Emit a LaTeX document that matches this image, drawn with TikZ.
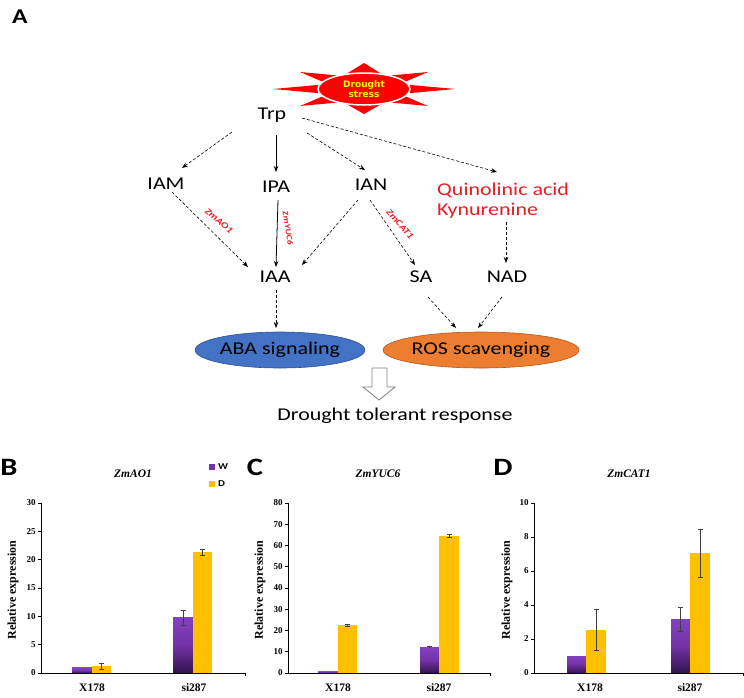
\documentclass[tikz,border=0pt]{standalone}
\usepackage{fontspec}
\setmainfont{Liberation Serif}
\newfontfamily\diagfont{Carlito}[FakeStretch=1.22]
\newfontfamily\burstfont{DejaVu Sans}
\usetikzlibrary{shapes.geometric,arrows.meta,calc}
\definecolor{pathred}{RGB}{232,28,36}
\definecolor{burstred}{RGB}{255,0,0}
\definecolor{burstyellow}{RGB}{255,255,0}
\definecolor{abablue}{RGB}{68,114,196}
\definecolor{ababorder}{RGB}{47,82,143}
\definecolor{rosorange}{RGB}{237,125,49}
\definecolor{rosborder}{RGB}{174,90,33}
\definecolor{wtop}{RGB}{130,66,192}
\definecolor{wmid}{RGB}{115,50,165}
\definecolor{wbot}{RGB}{50,20,78}
\definecolor{dfill}{RGB}{255,192,0}
\begin{document}
\begin{tikzpicture}[x=1pt, y=-1pt,
  metab/.style={font=\diagfont\fontsize{18}{20}\selectfont, inner sep=0pt},
  redmetab/.style={metab, text=pathred},
  enzyme/.style={font=\diagfont\bfseries\itshape\fontsize{9}{10}\selectfont, text=pathred, inner sep=0pt},
  dasharrow/.style={line width=0.6pt, dash pattern=on 3pt off 2pt, -{Stealth[length=6pt,width=4.5pt]}},
  solidarrow/.style={line width=0.8pt, -{Stealth[length=6pt,width=4.5pt]}},
  outcome/.style={ellipse, minimum width=157pt, minimum height=36pt, inner sep=0pt, line width=0.6pt, font=\diagfont\fontsize{18}{20}\selectfont},
  panel/.style={font=\diagfont\bfseries\fontsize{25}{27}\selectfont, inner sep=0pt},
  genetitle/.style={font=\bfseries\itshape\fontsize{11.5}{13}\selectfont, inner sep=0pt},
  ylbl/.style={font=\bfseries\fontsize{12}{14}\selectfont, rotate=90, inner sep=0pt},
  catlbl/.style={font=\bfseries\fontsize{11.5}{13}\selectfont, inner sep=0pt},
  ticklbl/.style={font=\bfseries\fontsize{9}{10}\selectfont, inner sep=0pt, anchor=east, xshift=-2pt},
  legend/.style={font=\diagfont\bfseries\fontsize{9}{10}\selectfont, inner sep=0pt, anchor=west},
  barW/.style={top color=wtop, bottom color=wbot, middle color=wmid},
  barD/.style={fill=dfill},
  errbar/.style={line width=0.6pt, draw=black!75},
  axisline/.style={line width=0.7pt}
]
% figure laid out on the pixel grid, y running down
\providecommand{\tickln}{3pt}
\useasboundingbox (0,0) rectangle (744,697);
\node[panel, font=\diagfont\bfseries\fontsize{21}{23}\selectfont] (lblA) at (20,17) {A};

% Drought stress burst
\fill[burstred] (455,89) -- (400,84) -- (428,72) -- (385,76) -- (364,63) -- (343,76)
  -- (300,72) -- (328,84) -- (273,89) -- (328,94) -- (300,106) -- (343,102)
  -- (364,114) -- (385,102) -- (428,106) -- (400,94) -- cycle;
\node[ellipse, fill=burstred, draw=white, line width=1.5pt, minimum width=92pt, minimum height=32pt,
  inner sep=0pt, align=center, text=burstyellow,
  font=\burstfont\bfseries\fontsize{9}{9.5}\selectfont] (stress) at (364,89) {Drought\\stress};

% Metabolites
\node[metab] (trp) at (272,115) {Trp};
\node[metab] (iam) at (166,184) {IAM};
\node[metab] (ipa) at (276,187) {IPA};
\node[metab] (ian) at (371,185) {IAN};
\node[redmetab, anchor=west] (quin) at (437,190) {Quinolinic acid};
\node[redmetab, anchor=west] (kyn) at (437,211) {Kynurenine};
\node[metab] (iaa) at (275,277) {IAA};
\node[metab] (sa) at (421,277) {SA};
\node[metab] (nad) at (507,277) {NAD};
\node[outcome, fill=abablue, draw=ababorder] (aba) at (280,350) {ABA signaling};
\node[outcome, fill=rosorange, draw=rosborder, minimum width=162pt] (ros) at (481,350) {ROS scavenging};
\node[metab] (resp) at (395,416) {Drought tolerant response};

% Enzymes
\node[enzyme, rotate=-40] (ao1) at (219,221) {ZmAO1};
\node[enzyme, rotate=-81, font=\diagfont\bfseries\itshape\fontsize{8}{9}\selectfont] (yuc6) at (288,228) {ZmYUC6};
\node[enzyme, rotate=-49] (cat1) at (400,224) {ZmCAT1};

% Pathway arrows
\draw[dasharrow] ($(trp)+(-40,17)$) -- ($(iam)+(16,-16)$);
\draw[solidarrow] ($(trp)+(4,20)$) -- ($(ipa)+(0,-15)$);
\draw[dasharrow] ($(trp)+(35,18)$) -- ($(ian)+(-6,-15)$);
\draw[dasharrow] ($(trp)+(30,3)$) -- ($(quin.west)+(60,-18)$);
\draw[dasharrow] ($(iam)+(6,8)$) -- ($(iaa)+(-27,-10)$);
\draw[solidarrow] ($(ipa)+(2,13)$) -- ($(iaa)+(1,-10)$);
\draw[dasharrow] ($(ian)+(-13,15)$) -- ($(iaa)+(27,-12)$);
\draw[dasharrow] ($(ian)+(-1,15)$) -- ($(sa)+(-6,-12)$);
\draw[dasharrow] ($(kyn.west)+(69,11)$) -- ($(nad)+(-1,-14)$);
\draw[dasharrow] ($(iaa)+(1,13)$) -- ($(aba)+(-4,-22)$);
\draw[dasharrow] ($(sa)+(7,20)$) -- ($(ros)+(-25,-22)$);
\draw[dasharrow] ($(nad)+(-5,20)$) -- ($(ros)+(-3,-22)$);

% Hollow arrow to the response
\draw[draw=black!50, fill=white, line width=0.8pt] (372,368) -- (387,368) -- (387,387) -- (395,387)
  -- (379,400) -- (363,387) -- (372,387) -- cycle;

% ---------- Panel B ----------
\node[panel] (lblB) at (9,467) {B};
\node[genetitle] (ttlB) at (133,474) {ZmAO1};
\node[ylbl] (yB) at (13,590) {Relative expression};
\node[catlbl] (xB1) at (92,688) {X178};
\node[catlbl] (xB2) at (194,688) {si287};
\fill[wmid] (209,464) rectangle (215,470);
\node[legend] (legW) at (218,467) {W};
\fill[dfill] (209,481) rectangle (215,487);
\node[legend] (legD) at (218,484) {D};
\begin{scope}[shift={(41,673)}, y=5.667pt]
  % Bars
  \path[barW] (31,0) rectangle (51,0.9);
  \path[barD] (51,0) rectangle (70,1.2);
  \path[barW] (132,0) rectangle (152,9.8);
  \path[barD] (152,0) rectangle (171,21.3);
  % Error bars
  \draw[errbar] (60.5,0.7) -- (60.5,1.7) (58,0.7) -- (63,0.7) (58,1.7) -- (63,1.7);
  \draw[errbar] (142,8.5) -- (142,11.1) (139.5,8.5) -- (144.5,8.5) (139.5,11.1) -- (144.5,11.1);
  \draw[errbar] (161.5,20.7) -- (161.5,21.9) (159,20.7) -- (164,20.7) (159,21.9) -- (164,21.9);
  % Axes and ticks
  \draw[axisline] (0,30) -- (0,0) -- (204,0) -- ++(0,-\tickln);
  \draw[axisline] (0,0) -- ++(-\tickln,0) node[ticklbl] (tB0) {0}
    (0,5) -- ++(-\tickln,0) node[ticklbl] (tB5) {5}
    (0,10) -- ++(-\tickln,0) node[ticklbl] (tB10) {10}
    (0,15) -- ++(-\tickln,0) node[ticklbl] (tB15) {15}
    (0,20) -- ++(-\tickln,0) node[ticklbl] (tB20) {20}
    (0,25) -- ++(-\tickln,0) node[ticklbl] (tB25) {25}
    (0,30) -- ++(-\tickln,0) node[ticklbl] (tB30) {30};
\end{scope}

% ---------- Panel C ----------
\node[panel] (lblC) at (255,467) {C};
\node[genetitle] (ttlC) at (378,474) {ZmYUC6};
\node[ylbl] (yC) at (260,590) {Relative expression};
\node[catlbl] (xC1) at (338,688) {X178};
\node[catlbl] (xC2) at (439,688) {si287};
\begin{scope}[shift={(288,673)}, y=2.125pt]
  % Bars
  \path[barW] (30,0) rectangle (50,0.8);
  \path[barD] (50,0) rectangle (69,22.6);
  \path[barW] (132,0) rectangle (151,12.2);
  \path[barD] (151,0) rectangle (171,64.5);
  % Error bars
  \draw[errbar] (59.5,22.1) -- (59.5,23.1) (57,22.1) -- (62,22.1) (57,23.1) -- (62,23.1);
  \draw[errbar] (141.5,11.9) -- (141.5,12.5) (139,12.5) -- (144,12.5);
  \draw[errbar] (161,63.9) -- (161,65.1) (158.5,63.9) -- (163.5,63.9) (158.5,65.1) -- (163.5,65.1);
  % Axes and ticks
  \draw[axisline] (0,80) -- (0,0) -- (202,0) -- ++(0,-\tickln);
  \draw[axisline] (0,0) -- ++(-\tickln,0) node[ticklbl] (tC0) {0}
    (0,10) -- ++(-\tickln,0) node[ticklbl] (tC10) {10}
    (0,20) -- ++(-\tickln,0) node[ticklbl] (tC20) {20}
    (0,30) -- ++(-\tickln,0) node[ticklbl] (tC30) {30}
    (0,40) -- ++(-\tickln,0) node[ticklbl] (tC40) {40}
    (0,50) -- ++(-\tickln,0) node[ticklbl] (tC50) {50}
    (0,60) -- ++(-\tickln,0) node[ticklbl] (tC60) {60}
    (0,70) -- ++(-\tickln,0) node[ticklbl] (tC70) {70}
    (0,80) -- ++(-\tickln,0) node[ticklbl] (tC80) {80};
\end{scope}

% ---------- Panel D ----------
\node[panel] (lblD) at (503,467) {D};
\node[genetitle] (ttlD) at (629,474) {ZmCAT1};
\node[ylbl] (yD) at (507,590) {Relative expression};
\node[catlbl] (xD1) at (590,688) {X178};
\node[catlbl] (xD2) at (690,688) {si287};
\begin{scope}[shift={(534,673)}, y=17pt]
  % Bars
  \path[barW] (33,0) rectangle (52,1.0);
  \path[barD] (52,0) rectangle (72,2.55);
  \path[barW] (137,0) rectangle (156,3.15);
  \path[barD] (156,0) rectangle (176,7.05);
  % Error bars
  \draw[errbar] (62,1.35) -- (62,3.75) (59.5,1.35) -- (64.5,1.35) (59.5,3.75) -- (64.5,3.75);
  \draw[errbar] (146.5,2.45) -- (146.5,3.85) (144,2.45) -- (149,2.45) (144,3.85) -- (149,3.85);
  \draw[errbar] (166,5.65) -- (166,8.45) (163.5,5.65) -- (168.5,5.65) (163.5,8.45) -- (168.5,8.45);
  % Axes and ticks
  \draw[axisline] (0,10) -- (0,0) -- (209,0) -- ++(0,-\tickln);
  \draw[axisline] (0,0) -- ++(-\tickln,0) node[ticklbl] (tD0) {0}
    (0,2) -- ++(-\tickln,0) node[ticklbl] (tD2) {2}
    (0,4) -- ++(-\tickln,0) node[ticklbl] (tD4) {4}
    (0,6) -- ++(-\tickln,0) node[ticklbl] (tD6) {6}
    (0,8) -- ++(-\tickln,0) node[ticklbl] (tD8) {8}
    (0,10) -- ++(-\tickln,0) node[ticklbl] (tD10) {10};
\end{scope}
\end{tikzpicture}
\end{document}
